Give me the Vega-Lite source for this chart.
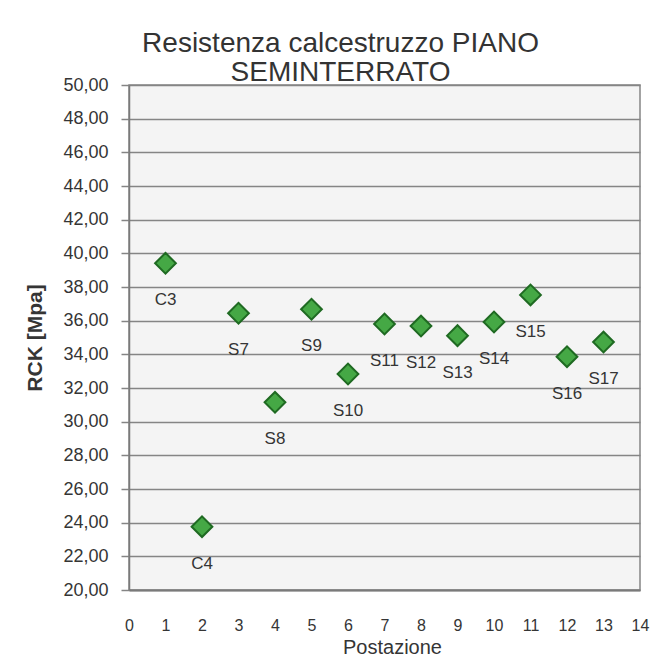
{
  "$schema": "https://vega.github.io/schema/vega-lite/v6.json",
  "autosize": "none",
  "width": 511,
  "height": 505,
  "padding": {"left": 129, "top": 85, "right": 24, "bottom": 71},
  "background": "white",
  "title": {
    "text": ["Resistenza calcestruzzo PIANO", "SEMINTERRATO"],
    "anchor": "middle",
    "frame": "group",
    "dx": -44,
    "fontSize": 28,
    "fontWeight": "normal",
    "font": "Liberation Sans",
    "color": "#333333",
    "lineHeight": 29,
    "offset": -11
  },
  "data": {
    "values": [
      {"postazione": 1, "rck": 39.41, "label": "C3"},
      {"postazione": 2, "rck": 23.76, "label": "C4"},
      {"postazione": 3, "rck": 36.44, "label": "S7"},
      {"postazione": 4, "rck": 31.15, "label": "S8"},
      {"postazione": 5, "rck": 36.68, "label": "S9"},
      {"postazione": 6, "rck": 32.83, "label": "S10"},
      {"postazione": 7, "rck": 35.8, "label": "S11"},
      {"postazione": 8, "rck": 35.68, "label": "S12"},
      {"postazione": 9, "rck": 35.11, "label": "S13"},
      {"postazione": 10, "rck": 35.92, "label": "S14"},
      {"postazione": 11, "rck": 37.53, "label": "S15"},
      {"postazione": 12, "rck": 33.86, "label": "S16"},
      {"postazione": 13, "rck": 34.73, "label": "S17"}
    ]
  },
  "encoding": {
    "x": {
      "field": "postazione",
      "type": "quantitative",
      "scale": {"domain": [0, 14], "nice": false, "zero": false},
      "axis": {
        "title": "Postazione",
        "values": [0,1,2,3,4,5,6,7,8,9,10,11,12,13,14],
        "grid": false,
        "ticks": false,
        "domain": true,
        "domainColor": "#7a7a7a",
        "domainWidth": 2,
        "labelFlush": false,
        "labelPadding": 35,
        "labelFontSize": 16,
        "labelColor": "#353535",
        "labelBaseline": "middle",
        "titleFontSize": 20,
        "titleFontWeight": "normal",
        "titleColor": "#353535",
        "titleBaseline": "middle",
        "titleY": 57,
        "titleX": 263
      }
    },
    "y": {
      "field": "rck",
      "type": "quantitative",
      "scale": {"domain": [20, 50], "nice": false, "zero": false},
      "axis": {
        "title": "RCK [Mpa]",
        "values": [20,22,24,26,28,30,32,34,36,38,40,42,44,46,48,50],
        "labelExpr": "replace(format(datum.value, '.2f'), '.', ',')",
        "grid": true,
        "gridColor": "#858585",
        "gridWidth": 1.5,
        "ticks": true,
        "tickSize": 8,
        "tickColor": "#858585",
        "tickWidth": 1.5,
        "domainColor": "#7a7a7a",
        "domainWidth": 1.5,
        "labelPadding": 13,
        "labelFontSize": 18,
        "labelColor": "#353535",
        "titleFontSize": 21,
        "titleFontWeight": "bold",
        "titleColor": "#353535",
        "titlePadding": 17
      }
    }
  },
  "layer": [
    {
      "mark": {
        "type": "point",
        "shape": "diamond",
        "filled": true,
        "size": 430,
        "fill": "#45a845",
        "stroke": "#1f6a22",
        "strokeWidth": 2,
        "opacity": 1
      }
    },
    {
      "mark": {
        "type": "text",
        "dy": 37,
        "baseline": "middle",
        "align": "center",
        "fontSize": 17,
        "color": "#353535"
      },
      "encoding": {"text": {"field": "label"}}
    }
  ],
  "config": {
    "font": "Liberation Sans",
    "view": {"fill": "#f4f4f4", "stroke": "#858585", "strokeWidth": 1.5}
  }
}
